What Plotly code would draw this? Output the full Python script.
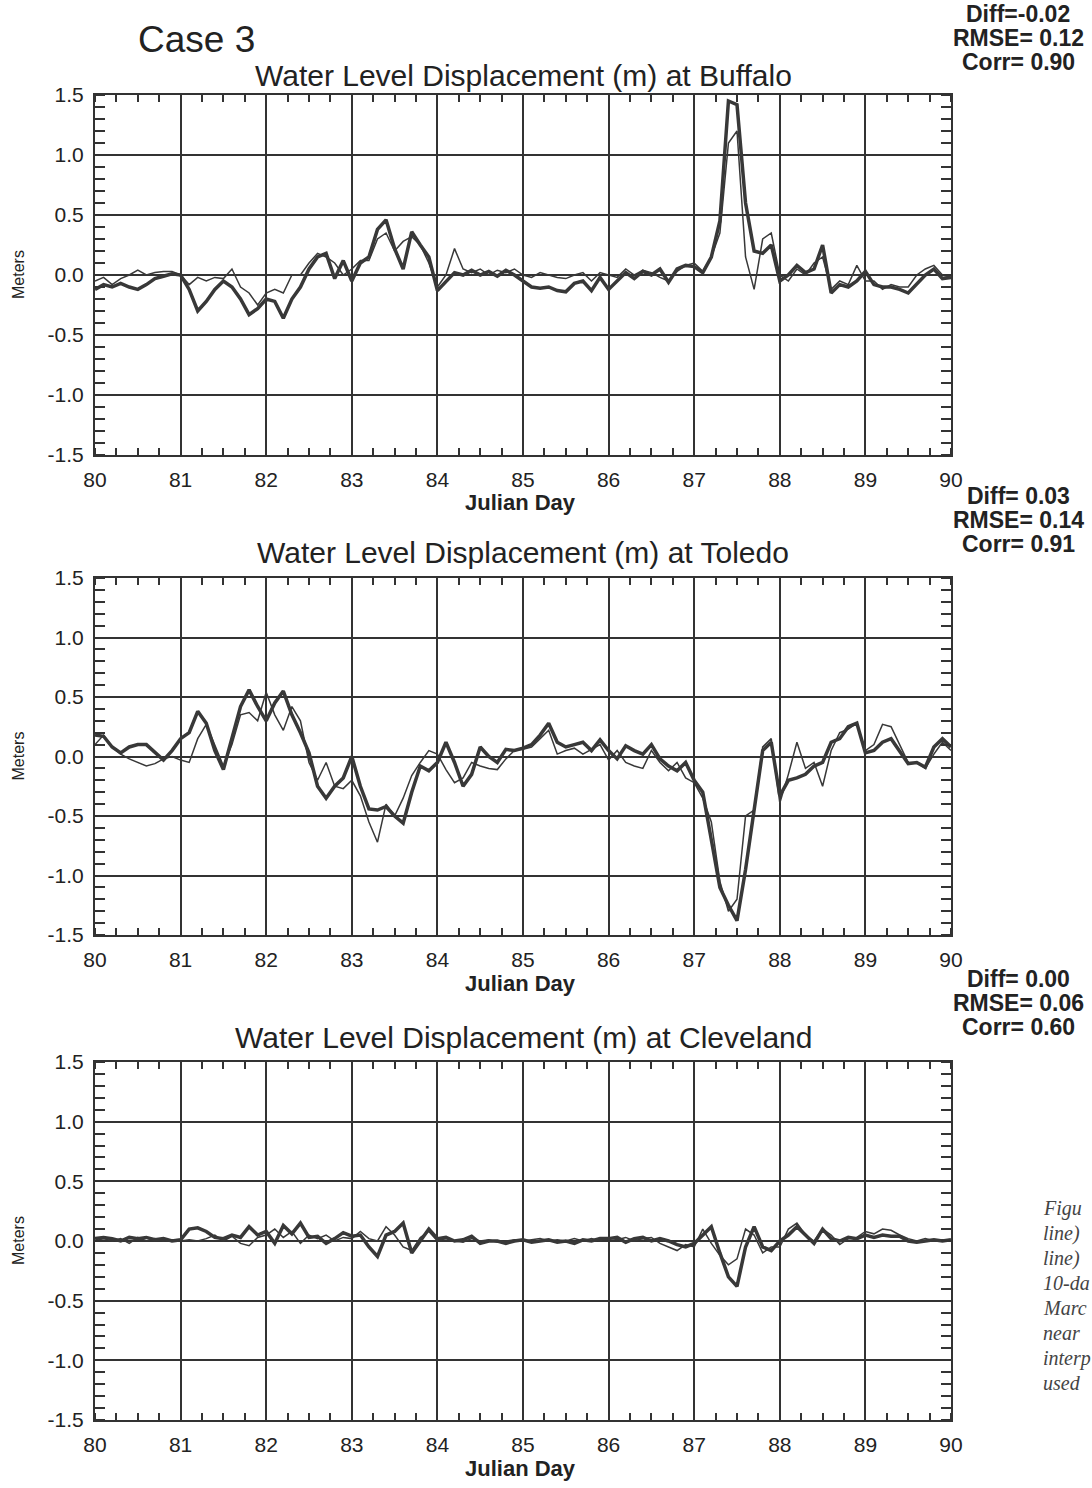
import plotly.graph_objects as go

# ---------------- data ----------------
days = [round(80 + 0.1 * i, 1) for i in range(101)]

buffalo_thick = [-0.12, -0.08, -0.10, -0.07, -0.10, -0.12, -0.08, -0.03, -0.01, 0.01,
                 0.00, -0.12, -0.30, -0.22, -0.12, -0.05, -0.10, -0.20, -0.33, -0.28,
                 -0.20, -0.22, -0.36, -0.20, -0.10, 0.05, 0.15, 0.18, -0.03, 0.12,
                 -0.05, 0.10, 0.15, 0.38, 0.46, 0.22, 0.05, 0.36, 0.25, 0.15,
                 -0.13, -0.05, 0.02, 0.00, 0.04, 0.00, 0.03, -0.01, 0.04, 0.00,
                 -0.05, -0.10, -0.11, -0.10, -0.13, -0.14, -0.07, -0.05, -0.13, -0.02,
                 -0.12, -0.05, 0.02, -0.03, 0.03, 0.00, 0.05, -0.06, 0.05, 0.08,
                 0.07, 0.02, 0.15, 0.45, 1.45, 1.42, 0.60, 0.20, 0.18, 0.25,
                 -0.05, 0.00, 0.08, 0.02, 0.05, 0.25, -0.15, -0.08, -0.10, -0.05,
                 0.03, -0.08, -0.10, -0.10, -0.12, -0.15, -0.08, 0.00, 0.05, -0.03,
                 -0.02]
buffalo_thin = [-0.05, -0.02, -0.08, -0.03, 0.00, 0.04, 0.00, 0.02, 0.03, 0.03,
                0.00, -0.08, -0.02, -0.05, -0.02, -0.03, 0.05, -0.10, -0.15, -0.25,
                -0.15, -0.12, -0.15, 0.00, 0.00, 0.10, 0.18, 0.15, 0.10, 0.00,
                0.05, 0.12, 0.12, 0.30, 0.35, 0.20, 0.28, 0.32, 0.25, 0.10,
                -0.10, 0.00, 0.22, 0.05, 0.02, 0.05, 0.00, 0.04, 0.02, 0.05,
                0.00, -0.02, 0.02, 0.00, -0.02, -0.03, 0.00, 0.02, -0.05, 0.02,
                0.00, -0.02, 0.05, 0.00, 0.04, 0.02, -0.02, -0.05, 0.03, 0.08,
                0.10, 0.03, 0.15, 0.35, 1.10, 1.20, 0.15, -0.12, 0.30, 0.35,
                0.00, -0.05, 0.05, 0.00, 0.10, 0.15, -0.12, -0.05, -0.08, 0.08,
                -0.05, -0.05, -0.12, -0.08, -0.10, -0.10, 0.00, 0.05, 0.08, 0.00,
                -0.02]

toledo_thick = [0.18, 0.17, 0.08, 0.03, 0.08, 0.10, 0.10, 0.03, -0.03, 0.05,
                0.15, 0.20, 0.38, 0.28, 0.05, -0.11, 0.15, 0.42, 0.56, 0.42,
                0.30, 0.45, 0.55, 0.35, 0.20, 0.03, -0.25, -0.35, -0.25, -0.18,
                0.00, -0.25, -0.44, -0.45, -0.42, -0.50, -0.56, -0.30, -0.08, -0.12,
                -0.05, 0.12, -0.05, -0.25, -0.15, 0.08, 0.00, -0.05, 0.06, 0.05,
                0.07, 0.10, 0.18, 0.28, 0.12, 0.08, 0.10, 0.12, 0.05, 0.14,
                0.05, -0.02, 0.09, 0.05, 0.02, 0.10, -0.02, -0.08, -0.12, -0.05,
                -0.20, -0.30, -0.70, -1.10, -1.25, -1.38, -0.95, -0.45, 0.05, 0.12,
                -0.33, -0.20, -0.18, -0.15, -0.08, -0.05, 0.12, 0.15, 0.25, 0.28,
                0.03, 0.05, 0.12, 0.15, 0.05, -0.06, -0.05, -0.09, 0.08, 0.15,
                0.08]
toledo_thin = [0.10, 0.18, 0.08, 0.02, -0.02, -0.05, -0.08, -0.06, -0.02, 0.00,
               -0.03, -0.05, 0.15, 0.27, 0.10, -0.08, 0.10, 0.35, 0.37, 0.30,
               0.54, 0.35, 0.22, 0.42, 0.30, -0.05, -0.20, -0.05, -0.25, -0.27,
               -0.20, -0.33, -0.55, -0.72, -0.40, -0.50, -0.35, -0.16, -0.05, 0.05,
               0.02, -0.11, -0.22, -0.18, -0.05, -0.08, -0.10, -0.11, -0.02, 0.05,
               0.06, 0.08, 0.15, 0.22, 0.02, 0.05, 0.07, 0.02, 0.06, 0.10,
               -0.03, 0.05, -0.05, -0.08, -0.10, 0.05, -0.05, -0.12, -0.05, -0.18,
               -0.22, -0.35, -0.55, -1.05, -1.30, -1.20, -0.50, -0.45, 0.08, 0.15,
               -0.39, -0.15, 0.12, -0.10, -0.05, -0.25, 0.05, 0.20, 0.23, 0.28,
               0.05, 0.10, 0.27, 0.25, 0.10, -0.05, -0.05, -0.10, 0.02, 0.12,
               0.05]

cleveland_thick = [0.02, 0.03, 0.02, 0.00, 0.03, 0.02, 0.03, 0.01, 0.02, 0.00,
                   0.01, 0.10, 0.11, 0.08, 0.03, 0.02, 0.05, 0.03, 0.12, 0.05,
                   0.08, -0.02, 0.13, 0.06, 0.15, 0.03, 0.04, -0.02, 0.02, 0.07,
                   0.04, 0.05, -0.05, -0.13, 0.05, 0.08, 0.15, -0.10, 0.00, 0.10,
                   0.02, 0.03, 0.00, 0.01, 0.04, -0.02, 0.00, 0.00, -0.02, 0.00,
                   0.01, -0.01, 0.00, 0.01, -0.01, 0.00, -0.02, 0.01, 0.00, 0.02,
                   0.02, 0.03, -0.01, 0.02, 0.03, 0.00, 0.02, 0.00, -0.03, -0.05,
                   -0.02, 0.05, 0.12, -0.10, -0.30, -0.38, -0.05, 0.12, -0.05, -0.08,
                   0.00, 0.05, 0.12, 0.05, -0.02, 0.10, 0.02, 0.00, 0.03, 0.02,
                   0.05, 0.03, 0.05, 0.04, 0.04, 0.00, -0.01, 0.00, 0.01, 0.00,
                   0.01]
cleveland_thin = [0.00, 0.02, 0.00, 0.02, -0.02, 0.03, 0.00, 0.02, 0.00, 0.01,
                  0.00, 0.01, 0.00, 0.02, 0.05, 0.00, 0.04, -0.02, -0.04, 0.03,
                  0.05, 0.10, 0.03, 0.08, -0.02, 0.05, 0.02, 0.05, 0.00, 0.03,
                  0.02, 0.08, 0.02, 0.00, 0.12, 0.05, -0.05, -0.08, 0.03, 0.08,
                  0.00, 0.02, 0.00, -0.01, 0.02, 0.00, 0.01, -0.01, 0.00, 0.01,
                  0.00, 0.01, 0.02, 0.00, 0.01, 0.00, 0.02, 0.00, 0.02, 0.00,
                  0.03, 0.01, 0.03, 0.00, 0.02, 0.03, -0.02, -0.05, -0.08, -0.03,
                  -0.05, 0.10, -0.02, -0.12, -0.20, -0.15, 0.10, 0.05, -0.10, -0.05,
                  -0.05, 0.10, 0.15, 0.05, 0.00, 0.10, 0.05, -0.03, 0.02, 0.03,
                  0.08, 0.06, 0.10, 0.09, 0.05, 0.02, 0.00, 0.02, 0.00, 0.01,
                  0.00]

stations = ["Buffalo", "Toledo", "Cleveland"]
thick_series = [buffalo_thick, toledo_thick, cleveland_thick]
thin_series = [buffalo_thin, toledo_thin, cleveland_thin]
stats = [("Diff=-0.02", "RMSE= 0.12", "Corr= 0.90"),
         ("Diff= 0.03", "RMSE= 0.14", "Corr= 0.91"),
         ("Diff= 0.00", "RMSE= 0.06", "Corr= 0.60")]
x_ticks = list(range(80, 91))
y_ticks = [-1.5, -1.0, -0.5, 0.0, 0.5, 1.0, 1.5]
caption_lines = ["Figu", "line)", "line)", "10-da", "Marc", "near", "interp", "used"]

# ---------------- layout geometry (pixels) ----------------
W, H = 1092, 1488
x_left, x_right = 95, 951
panels = [(95, 455), (578, 935), (1062, 1420)]   # top, bottom pixel rows
title_y = [76, 553, 1037]
stats_y = [14, 496, 979]

def py(p):
    return 1 - p / H

def px(p):
    return p / W

INK = "#222222"
AX = "#333333"
LINE = "#383838"
FONT = "Liberation Sans, Arial, Helvetica, sans-serif"

fig = go.Figure()
annotations = []
layout = dict(width=W, height=H, margin=dict(l=0, r=0, t=0, b=0, pad=0, autoexpand=False),
              paper_bgcolor="white", plot_bgcolor="white", showlegend=False,
              template="none")

for i, name in enumerate(stations):
    k = "" if i == 0 else str(i + 1)
    xa, ya = "x" + k, "y" + k
    top, bot = panels[i]
    fig.add_trace(go.Scatter(x=days, y=thin_series[i], mode="lines", xaxis=xa, yaxis=ya,
                             line=dict(color=LINE, width=1.5), name="model"))
    fig.add_trace(go.Scatter(x=days, y=thick_series[i], mode="lines", xaxis=xa, yaxis=ya,
                             line=dict(color=LINE, width=3.5), name="observed"))
    layout["xaxis" + k] = dict(
        domain=[px(x_left), px(x_right)], anchor=ya, range=[80, 90], automargin=False,
        tickvals=x_ticks, ticktext=[str(t) for t in x_ticks],
        showgrid=True, gridcolor=AX, gridwidth=1.6, zeroline=False,
        showline=True, linecolor=AX, linewidth=2, mirror="allticks",
        ticks="", ticklabelstandoff=5,
        minor=dict(dtick=0.25, ticks="inside", ticklen=7, tickcolor=AX, tickwidth=1.5,
                   showgrid=False),
        tickfont=dict(family=FONT, size=21, color=INK), fixedrange=True)
    layout["yaxis" + k] = dict(
        domain=[py(bot), py(top)], anchor=xa, range=[-1.5, 1.5], automargin=False,
        tickvals=y_ticks, ticktext=["%.1f" % v for v in y_ticks],
        showgrid=True, gridcolor=AX, gridwidth=1.6, zeroline=False,
        showline=True, linecolor=AX, linewidth=2, mirror="allticks",
        ticks="", ticklabelstandoff=5,
        minor=dict(dtick=0.1, ticks="inside", ticklen=10, tickcolor=AX, tickwidth=1.5,
                   showgrid=False),
        tickfont=dict(family=FONT, size=21, color=INK), fixedrange=True)

    # panel title
    annotations.append(dict(text="Water Level Displacement (m) at " + name,
                            x=px(523), y=py(title_y[i]),
                            xref="paper", yref="paper", xanchor="center", yanchor="middle",
                            showarrow=False, font=dict(family=FONT, size=30, color=INK)))
    # axis titles
    annotations.append(dict(text="<b>Julian Day</b>", x=px(520), y=py(bot + 48),
                            xref="paper", yref="paper", xanchor="center", yanchor="middle",
                            showarrow=False, font=dict(family=FONT, size=22, color=INK)))
    annotations.append(dict(text="Meters", x=px(18), y=py((top + bot) / 2), textangle=-90,
                            xref="paper", yref="paper", xanchor="center", yanchor="middle",
                            showarrow=False, font=dict(family=FONT, size=16, color=INK)))
    # statistics
    for j, s in enumerate(stats[i]):
        annotations.append(dict(text="<b>" + s + "</b>", x=px(1018), y=py(stats_y[i] + 24 * j),
                                xref="paper", yref="paper", xanchor="center", yanchor="middle",
                                showarrow=False, font=dict(family=FONT, size=23, color=INK)))

annotations.append(dict(text="Case 3", x=px(136), y=py(40), xref="paper", yref="paper",
                        xanchor="left", yanchor="middle", showarrow=False,
                        font=dict(family=FONT, size=37, color=INK)))

for j, t in enumerate(caption_lines):
    annotations.append(dict(text="<i>" + t + "</i>", x=px(1041), y=py(1208 + 25 * j),
                            xref="paper", yref="paper", xanchor="left", yanchor="middle",
                            showarrow=False,
                            font=dict(family="Liberation Serif, Times New Roman, serif",
                                      size=20, color="#444444")))

layout["annotations"] = annotations
fig.update_layout(**layout)
fig.write_html("out.html", config={"displayModeBar": False},
               post_script="document.body.style.margin='0';")
